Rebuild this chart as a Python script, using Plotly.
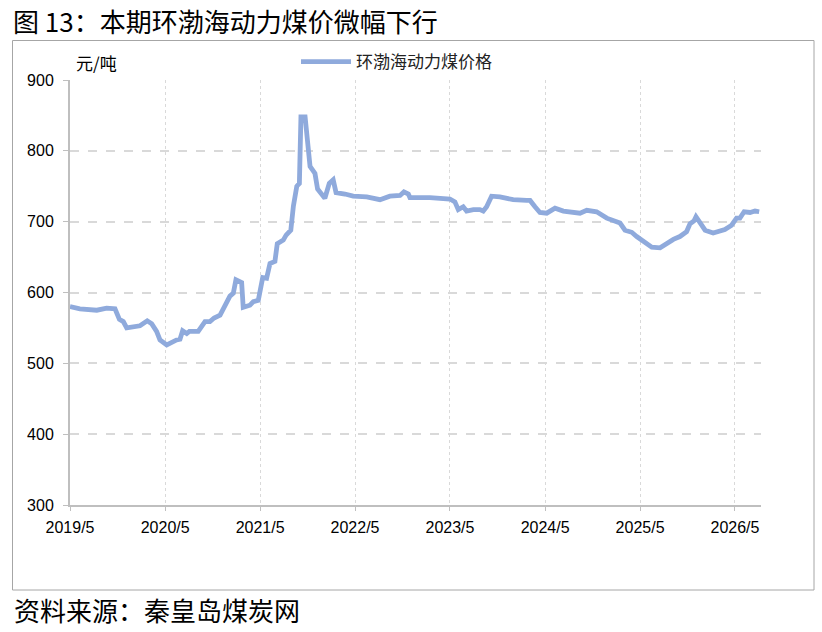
import plotly.graph_objects as go

# 环渤海动力煤价格 (元/吨)
dates = [
    "2019-05-01", "2019-06-08", "2019-08-12", "2019-09-19", "2019-10-21", "2019-11-07",
    "2019-11-22", "2019-12-05", "2020-01-25", "2020-02-22", "2020-03-10", "2020-03-29",
    "2020-04-11", "2020-05-07", "2020-06-14", "2020-06-27", "2020-07-07", "2020-07-23",
    "2020-08-02", "2020-09-05", "2020-10-01", "2020-10-20", "2020-11-05", "2020-11-28",
    "2021-01-05", "2021-01-18", "2021-01-28", "2021-02-19", "2021-02-25", "2021-03-23",
    "2021-04-05", "2021-04-24", "2021-05-11", "2021-05-26", "2021-06-08", "2021-06-27",
    "2021-07-06", "2021-07-29", "2021-08-09", "2021-08-27", "2021-09-06", "2021-09-19",
    "2021-09-29", "2021-10-05", "2021-10-21", "2021-11-09", "2021-11-28", "2021-12-08",
    "2022-01-05", "2022-01-22", "2022-02-06", "2022-02-17", "2022-03-23", "2022-04-24",
    "2022-06-15", "2022-07-10", "2022-08-05", "2022-09-12", "2022-10-21", "2022-11-05",
    "2022-11-22", "2022-11-28", "2023-02-13", "2023-05-01", "2023-05-20", "2023-06-02",
    "2023-06-21", "2023-07-04", "2023-07-30", "2023-08-24", "2023-09-06", "2023-09-19",
    "2023-10-08", "2023-11-09", "2023-12-05", "2023-12-30", "2024-02-20", "2024-03-04",
    "2024-03-23", "2024-04-11", "2024-05-07", "2024-06-08", "2024-07-10", "2024-08-11",
    "2024-09-12", "2024-10-08", "2024-11-15", "2024-12-24", "2025-02-13", "2025-03-04",
    "2025-03-30", "2025-04-18", "2025-05-26", "2025-06-15", "2025-07-17", "2025-08-11",
    "2025-09-06", "2025-10-01", "2025-10-27", "2025-11-09", "2025-11-24", "2025-12-02",
    "2025-12-17", "2026-01-06", "2026-02-06", "2026-03-11", "2026-03-23", "2026-04-18",
    "2026-05-07", "2026-05-20", "2026-06-05", "2026-06-28", "2026-07-17", "2026-08-02",
]
prices = [
    580, 577, 575, 578, 577, 562,
    559, 550, 553, 560, 556, 545,
    533, 526, 533, 534, 546, 542,
    545, 545, 559, 559, 564, 568,
    595, 599, 618, 614, 579, 582,
    587, 589, 621, 620, 641, 644,
    669, 674, 681, 688, 722, 750,
    754, 848, 848, 778, 768, 746,
    733, 754, 759, 741, 739, 736,
    735, 733, 731, 736, 737, 742,
    739, 734, 734, 732, 728, 717,
    721, 715, 717, 717, 715, 721,
    736, 735, 733, 731, 730, 730,
    721, 713, 712, 719, 715, 714,
    712, 716, 714, 705, 698, 688,
    685, 679, 670, 664, 663, 669,
    675, 679, 686, 697, 701, 707,
    700, 688, 684, 689, 689, 695,
    705, 705, 714, 713, 715, 714,
]

series_name = "环渤海动力煤价格"
title_text = "图 13：本期环渤海动力煤价微幅下行"
source_text = "资料来源：秦皇岛煤炭网"
unit_text = "元/吨"
y_ticks = [300, 400, 500, 600, 700, 800, 900]

W, H = 822, 632
L, R, T, B = 70, 61, 80, 127
pw, ph = W - L - R, H - T - B


def px_x(x):
    return (x - L) / pw


def px_y(y):
    return 1 - (y - T) / ph


fig = go.Figure()
fig.add_trace(go.Scatter(
    x=dates, y=prices, mode="lines", name=series_name,
    line=dict(color="#8FAADC", width=4.8),
))

fig.update_layout(
    width=W, height=H,
    margin=dict(l=L, r=R, t=T, b=B),
    paper_bgcolor="white", plot_bgcolor="white",
    font=dict(family="Liberation Sans, Arial, sans-serif", size=16, color="#000000"),
    showlegend=True,
    legend=dict(
        orientation="h", x=px_x(296), y=px_y(62), xanchor="left", yanchor="middle",
        font=dict(family="Noto Sans CJK SC", size=17, color="#222222"),
        itemwidth=50, bgcolor="rgba(0,0,0,0)",
    ),
    xaxis=dict(
        type="date", range=["2019-05-01", "2026-08-09"],
        tick0="2019-05-01", dtick="M12", tickformat="%Y/%-m",
        showgrid=True, gridcolor="#D9D9D9", griddash="dot", gridwidth=1,
        showline=True, linecolor="#BFBFBF", linewidth=2,
        ticks="outside", ticklen=4, tickcolor="#BFBFBF",
        ticklabelstandoff=3, zeroline=False,
    ),
    yaxis=dict(
        range=[300, 900], tickvals=y_ticks,
        showgrid=True, gridcolor="#D9D9D9", griddash="dash", gridwidth=1.5,
        showline=True, linecolor="#BFBFBF", linewidth=2,
        ticks="outside", ticklen=5, tickcolor="#BFBFBF",
        ticklabelstandoff=6, zeroline=False,
    ),
    shapes=[dict(
        type="rect", xref="paper", yref="paper",
        x0=px_x(12.5), x1=px_x(814), y0=px_y(590), y1=px_y(40.5),
        line=dict(color="#A6A6A6", width=1), layer="below",
    )],
    annotations=[
        dict(text=title_text, xref="paper", yref="paper", x=px_x(12), y=px_y(0.5),
             xanchor="left", yanchor="top", showarrow=False, borderpad=0,
             font=dict(family="Noto Sans CJK SC", size=26, color="#000000")),
        dict(text=source_text, xref="paper", yref="paper", x=px_x(12), y=px_y(609),
             xanchor="left", yanchor="middle", showarrow=False,
             font=dict(family="Noto Sans CJK SC", size=26, color="#000000")),
        dict(text=unit_text, xref="paper", yref="paper", x=px_x(74), y=px_y(62),
             xanchor="left", yanchor="middle", showarrow=False,
             font=dict(family="Noto Sans CJK SC", size=17, color="#000000")),
    ],
)

# drop the default page margin so the figure sits at the window's corner
fig.write_html("out.html", config={"displayModeBar": False},
               post_script="document.body.style.margin='0';")
